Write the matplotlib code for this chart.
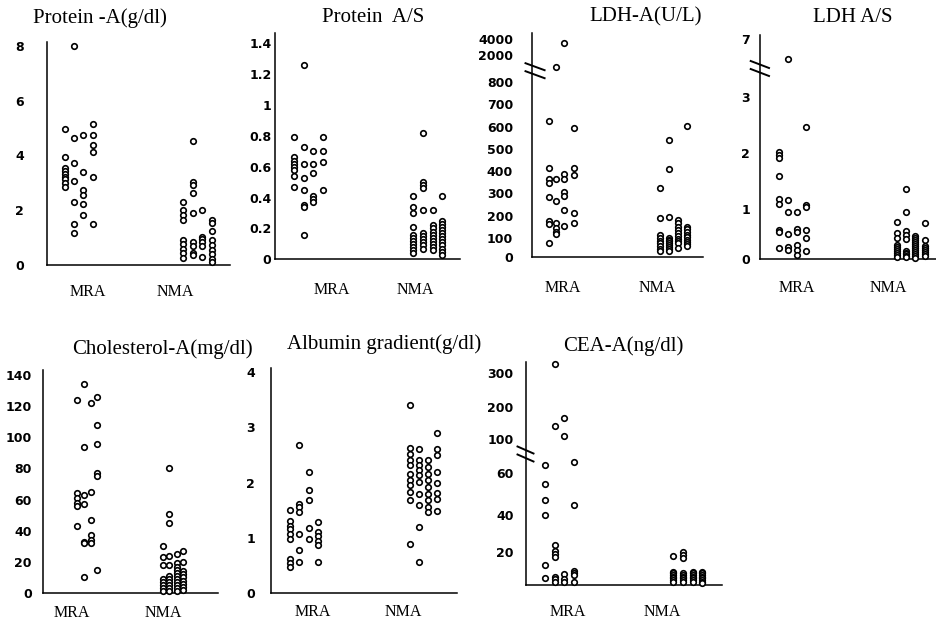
import numpy as np
import matplotlib
matplotlib.use("Agg")
import matplotlib.pyplot as plt

W, H, DPI = 937, 626, 100

GROUPS = ["MRA", "NMA"]

# ---------------- data (four scatter columns per group) ----------------
protein_a_mra = [[4.96, 3.93, 3.55, 3.43, 3.33, 3.23, 3.13, 2.98, 2.85],
                 [8.0, 4.63, 3.71, 3.08, 2.31, 1.50, 1.18],
                 [4.75, 3.41, 2.74, 2.55, 2.23, 1.83],
                 [5.15, 4.75, 4.38, 4.14, 3.23, 1.49]]
protein_a_nma = [[2.29, 2.01, 1.83, 1.64, 0.91, 0.75, 0.58, 0.43, 0.25],
                 [4.54, 3.05, 2.92, 2.62, 1.89, 0.85, 0.70, 0.45, 0.38],
                 [2.01, 1.04, 0.95, 0.85, 0.70, 0.28],
                 [1.64, 1.52, 1.25, 0.91, 0.72, 0.55, 0.40, 0.22, 0.10]]
protein_a_ticks = [0, 2, 4, 6, 8]

protein_as_mra = [[0.79, 0.66, 0.64, 0.62, 0.60, 0.58, 0.54, 0.47],
                  [1.26, 0.73, 0.62, 0.53, 0.45, 0.35, 0.34, 0.16],
                  [0.70, 0.62, 0.56, 0.41, 0.39, 0.37],
                  [0.79, 0.70, 0.63, 0.45]]
protein_as_nma = [[0.41, 0.34, 0.30, 0.21, 0.16, 0.14, 0.12, 0.10, 0.08, 0.06, 0.04],
                  [0.82, 0.50, 0.48, 0.46, 0.32, 0.17, 0.15, 0.13, 0.11, 0.09, 0.07],
                  [0.32, 0.22, 0.20, 0.18, 0.16, 0.14, 0.12, 0.10, 0.08, 0.06],
                  [0.41, 0.25, 0.23, 0.21, 0.19, 0.17, 0.15, 0.13, 0.11, 0.09, 0.07, 0.05, 0.03]]
protein_as_ticks = [0, 0.2, 0.4, 0.6, 0.8, 1, 1.2, 1.4]

ldh_a_mra = [[626, 412, 363, 348, 285, 177, 162, 73],
             [1450, 363, 267, 168, 142, 127, 115],
             [3500, 386, 366, 307, 288, 225, 155],
             [596, 412, 382, 213, 168]]
ldh_a_nma = [[325, 188, 112, 97, 85, 70, 55, 40, 30],
             [540, 407, 194, 100, 90, 80, 70, 60, 50, 40, 30],
             [180, 165, 150, 135, 120, 108, 95, 82, 70, 45],
             [604, 150, 138, 126, 114, 102, 90, 78, 66, 55]]
ldh_a_ticks = [0, 100, 200, 300, 400, 500, 600, 700, 800, 2000, 4000]

ldh_as_mra = [[2.03, 1.97, 1.91, 1.59, 1.17, 1.08, 0.57, 0.53, 0.21],
              [5.56, 1.15, 0.93, 0.50, 0.23, 0.17],
              [0.93, 0.60, 0.53, 0.27, 0.18, 0.07],
              [2.47, 1.06, 1.03, 0.58, 0.42, 0.15]]
ldh_as_nma = [[0.73, 0.51, 0.42, 0.28, 0.24, 0.20, 0.16, 0.12, 0.08, 0.04],
              [1.35, 0.93, 0.55, 0.48, 0.40, 0.15, 0.12, 0.09, 0.06, 0.03],
              [0.45, 0.41, 0.37, 0.33, 0.29, 0.25, 0.21, 0.17, 0.13, 0.09, 0.05, 0.02],
              [0.71, 0.37, 0.25, 0.21, 0.17, 0.13, 0.09, 0.05]]
ldh_as_ticks = [0, 1, 2, 3, 7]

chol_mra = [[124, 64, 61, 58, 56, 43],
            [134, 94, 63, 57, 33, 32, 10],
            [122, 65, 47, 37, 34, 32],
            [126, 108, 96, 77, 75, 15]]
chol_nma = [[30, 23, 18, 9, 7, 5, 3, 1],
            [80, 51, 45, 24, 18, 11, 9, 7, 5, 3, 1],
            [25, 19, 17, 15, 13, 11, 9, 7, 5, 3, 1],
            [27, 20, 14, 12, 10, 8, 6, 4, 2]]
chol_ticks = [0, 20, 40, 60, 80, 100, 120, 140]

alb_mra = [[1.50, 1.30, 1.22, 1.15, 1.07, 0.98, 0.62, 0.55, 0.47],
           [2.67, 1.61, 1.56, 1.47, 1.07, 0.77, 0.56],
           [2.19, 1.87, 1.68, 1.18, 0.97],
           [1.29, 1.10, 1.04, 0.95, 0.86, 0.56]]
alb_nma = [[3.40, 2.62, 2.51, 2.41, 2.31, 2.15, 2.04, 1.95, 1.83, 1.68, 0.89],
           [2.61, 2.41, 2.32, 2.22, 2.13, 2.01, 1.80, 1.60, 1.19, 0.57],
           [2.40, 2.28, 2.16, 2.04, 1.92, 1.80, 1.69, 1.56, 1.47],
           [2.90, 2.61, 2.49, 2.19, 1.99, 1.81, 1.71, 1.48]]
alb_ticks = [0, 1, 2, 3, 4]

cea_mra = [[70, 55, 47, 40, 12, 4],
           [327, 141, 23.6, 20.6, 18.6, 17, 4.6, 3.5, 2],
           [164, 110, 6.6, 3.5, 2],
           [73, 45, 8.6, 7.5, 6, 2]]
cea_nma = [[17.4, 8, 7, 6, 5, 4, 3, 2],
           [20, 18, 16, 7, 6, 5, 4, 3, 2],
           [8, 7, 6, 5, 4, 3, 2],
           [8, 7, 6, 5, 4, 3, 2, 1]]
cea_ticks = [20, 40, 60, 100, 200, 300]

titles = ["Protein -A(g/dl)", "Protein  A/S", "LDH-A(U/L)", "LDH A/S",
          "Cholesterol-A(mg/dl)", "Albumin gradient(g/dl)", "CEA-A(ng/dl)"]

# ---------------- layout (pixel geometry of the scanned figure) ----------------
layout = [
    dict(x0=47, x1=230, y0=265, yt=42, kv=[0, 8], kh=[0, 219],
         cm=[65, 74, 83, 93], cn=[183, 193, 202, 212], lx=[88, 175], lpad=19,
         tt=(100, 18), ypad=23, brk=None),
    dict(x0=275, x1=460, y0=259.3, yt=33, kv=[0, 1.4], kh=[0, 216],
         cm=[294, 304, 313, 323], cn=[413, 423, 433, 442], lx=[332, 415], lpad=23,
         tt=(373, 18), ypad=3.5, brk=None),
    dict(x0=532, x1=703, y0=256.7, yt=33,
         kv=[0, 100, 200, 300, 400, 500, 600, 700, 800, 2000, 4000],
         kh=[0, 19, 41, 63.3, 85.7, 107.7, 130, 152.7, 175, 201.7, 217.3],
         cm=[549, 556, 564, 574], cn=[660, 669, 678, 687], lx=[563, 657], lpad=23,
         tt=(646, 17), ypad=19, brk=(186, -6.5, 12.6)),
    dict(x0=760, x1=936, y0=258.5, yt=35, kv=[0, 1, 2, 3, 7],
         kh=[0, 50, 105, 161.7, 220],
         cm=[779, 788, 797, 806], cn=[897, 906, 915, 925], lx=[797, 888], lpad=22,
         tt=(853, 17), ypad=10, brk=(190, -9.3, 9)),
    dict(x0=43, x1=218, y0=593, yt=370, kv=[0, 140], kh=[0, 218],
         cm=[77, 84, 91, 97], cn=[163, 169, 177, 183], lx=[72, 163], lpad=12,
         tt=(162, 349), ypad=11, brk=None),
    dict(x0=271, x1=457, y0=593, yt=368, kv=[0, 4], kh=[0, 221],
         cm=[290, 299, 309, 318], cn=[410, 419, 428, 437], lx=[313, 403], lpad=11,
         tt=(384, 344), ypad=16, brk=None),
    dict(x0=525.5, x1=722, y0=585, yt=362,
         kv=[0, 20, 40, 60, 100, 200, 300], kh=[0, 33.3, 70, 111.7, 145.7, 178.3, 212.3],
         cm=[545, 555, 564, 574], cn=[673, 683, 693, 702], lx=[568, 662], lpad=19,
         tt=(623, 346), ypad=12, brk=(131, -8, 8)),
]

series = [(protein_a_mra, protein_a_nma, protein_a_ticks),
          (protein_as_mra, protein_as_nma, protein_as_ticks),
          (ldh_a_mra, ldh_a_nma, ldh_a_ticks),
          (ldh_as_mra, ldh_as_nma, ldh_as_ticks),
          (chol_mra, chol_nma, chol_ticks),
          (alb_mra, alb_nma, alb_ticks),
          (cea_mra, cea_nma, cea_ticks)]


def make_scale(vals, hts):
    vals = np.asarray(vals, float)
    hts = np.asarray(hts, float)
    lo = (hts[1] - hts[0]) / (vals[1] - vals[0])
    hi = (hts[-1] - hts[-2]) / (vals[-1] - vals[-2])

    def fwd(v):
        v = np.asarray(v, float)
        out = np.interp(v, vals, hts)
        out = np.where(v < vals[0], hts[0] + (v - vals[0]) * lo, out)
        out = np.where(v > vals[-1], hts[-1] + (v - vals[-1]) * hi, out)
        return out

    def inv(h):
        h = np.asarray(h, float)
        out = np.interp(h, hts, vals)
        out = np.where(h < hts[0], vals[0] + (h - hts[0]) / lo, out)
        out = np.where(h > hts[-1], vals[-1] + (h - hts[-1]) / hi, out)
        return out

    return fwd, inv


fig = plt.figure(figsize=(W / DPI, H / DPI), dpi=DPI)
fig.patch.set_facecolor("white")

PX2PT = 72.0 / DPI

for title, (mra, nma, ticks), L in zip(titles, series, layout):
    wpx = L["x1"] - L["x0"]
    hpx = L["y0"] - L["yt"]
    ax = fig.add_axes([L["x0"] / W, 1 - L["y0"] / H, wpx / W, hpx / H])
    fwd, inv = make_scale(L["kv"], L["kh"])
    ax.set_yscale("function", functions=(fwd, inv))
    ax.set_ylim(0, float(inv(hpx)))
    ax.set_xlim(0, wpx)

    for cols, xs in ((mra, L["cm"]), (nma, L["cn"])):
        for vals, xp in zip(cols, xs):
            ax.plot(np.full(len(vals), xp - L["x0"]), vals, "o", ls="none",
                    mfc="white", mec="black", ms=4.0, mew=1.2, clip_on=False,
                    zorder=3)

    for s in ("top", "right"):
        ax.spines[s].set_visible(False)
    for s in ("left", "bottom"):
        ax.spines[s].set_linewidth(1.1)
        ax.spines[s].set_color("black")

    ax.set_yticks(ticks)
    ax.set_yticklabels([f"{t:g}" for t in ticks], fontfamily="DejaVu Sans",
                       fontweight="bold", fontsize=9)
    ax.yaxis.set_minor_locator(plt.NullLocator())
    ax.tick_params(axis="y", length=0, pad=L["ypad"] * PX2PT)

    ax.set_xticks([x - L["x0"] for x in L["lx"]])
    ax.set_xticklabels(GROUPS, fontfamily="Liberation Serif", fontsize=11.5)
    ax.tick_params(axis="x", length=0, pad=L["lpad"] * PX2PT)

    fig.text(L["tt"][0] / W, 1 - L["tt"][1] / H, title, ha="center", va="center",
             fontfamily="Liberation Serif", fontsize=15)

    if L["brk"] is not None:
        hb, dl, dr = L["brk"]
        for off in (-4.0, 4.0):
            yl = (hb + off + 3.5) / hpx
            yr = (hb + off - 3.5) / hpx
            ax.plot([dl / wpx, dr / wpx], [yl, yr], color="black", lw=1.4,
                    transform=ax.transAxes, clip_on=False, zorder=4)

fig.savefig("out.png", dpi=DPI, facecolor="white")
